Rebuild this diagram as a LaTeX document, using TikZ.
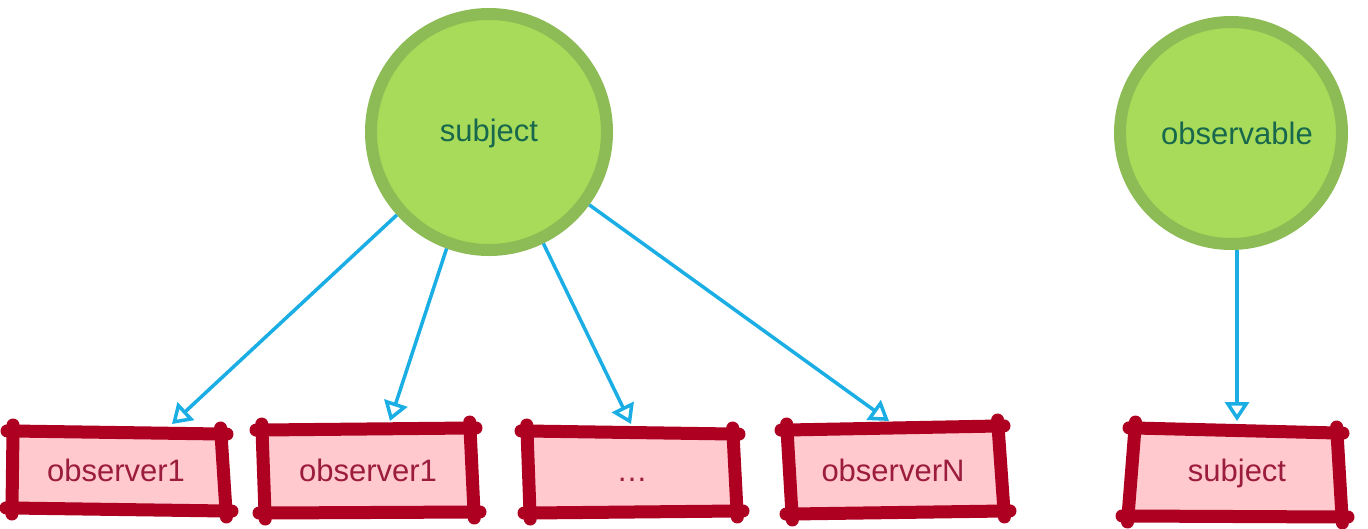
\documentclass[tikz,border=0pt]{standalone}
\usepackage{fontspec}
\setmainfont{Liberation Sans}
\usetikzlibrary{arrows.meta,calc}
\definecolor{circfill}{HTML}{A8DB5A}
\definecolor{circline}{HTML}{8DBB55}
\definecolor{circtext}{HTML}{17684C}
\definecolor{boxfill}{HTML}{FFC9CE}
\definecolor{boxline}{HTML}{AE0020}
\definecolor{boxtext}{HTML}{9B1C3C}
\definecolor{arrowc}{HTML}{1AAEE5}
\tikzset{
  circnode/.style={circle, fill=circfill, draw=circline, line width=12pt, inner sep=0pt},
  circlabel/.style={text=circtext, font=\fontsize{31}{34}\selectfont},
  boxlabel/.style={inner sep=0pt, text=boxtext, font=\fontsize{31}{34}\selectfont},
  boxedge/.style={draw=boxline, line width=13pt, line cap=round},
  conn/.style={draw=arrowc, line width=3.5pt, -{Triangle[open, length=19pt, width=24pt, line width=3.5pt]}}
}
\newcommand{\sketchbox}[4]{%
  \fill[boxfill] (#1) -- (#2) -- (#3) -- (#4) -- cycle;
  \draw[boxedge] ($(#1)!-6pt!(#2)$) -- ($(#2)!-6pt!(#1)$);
  \draw[boxedge] ($(#2)!-6pt!(#3)$) -- ($(#3)!-6pt!(#2)$);
  \draw[boxedge] ($(#3)!-6pt!(#4)$) -- ($(#4)!-6pt!(#3)$);
  \draw[boxedge] ($(#4)!-6pt!(#1)$) -- ($(#1)!-6pt!(#4)$);
}
\begin{document}
\begin{tikzpicture}[x=1pt,y=-1pt]
\useasboundingbox (0,0) rectangle (1368,528);
% circles
\node[circnode, minimum size=236pt] (subj) at (489,132) {};
\node[circlabel] (subjt) at (489,133) {subject};
\node[circnode, minimum size=222pt] (obs) at (1231,133) {};
\node[circlabel] (obst) at (1237,133) {observable};
% boxes
\sketchbox{13,431}{221,434}{226,511}{12,508}
\sketchbox{262,430}{470,428}{474,512}{265,513}
\sketchbox{527,431}{733,434}{737,511}{530,513}
\sketchbox{787,430}{998,426}{1004,511}{792,514}
\sketchbox{1135,428}{1337,433}{1342,517}{1128,516}
\node[boxlabel] (o1) at (116,470) {\vphantom{b}observer1};
\node[boxlabel] (o2) at (368,470) {\vphantom{b}observer1};
\node[boxlabel] (o3) at (632,470) {\vphantom{b}\dots};
\node[boxlabel] (o4) at (893,470) {\vphantom{b}observerN};
\node[boxlabel] (o5) at (1237,473) {\vphantom{b}subject};
% connectors
\coordinate (t1) at (172,424);
\coordinate (t2) at (390,421);
\coordinate (t3) at (631,424);
\coordinate (t4) at (889,421);
\coordinate (t5) at (1237,421);
\draw[conn] (subj.-138) -- (t1);
\draw[conn] (subj.-110) -- (t2);
\draw[conn] (subj.-64) -- (t3);
\draw[conn] (subj.-36) -- (t4);
\draw[conn] (obs.south -| t5) -- (t5);
\end{tikzpicture}
\end{document}
